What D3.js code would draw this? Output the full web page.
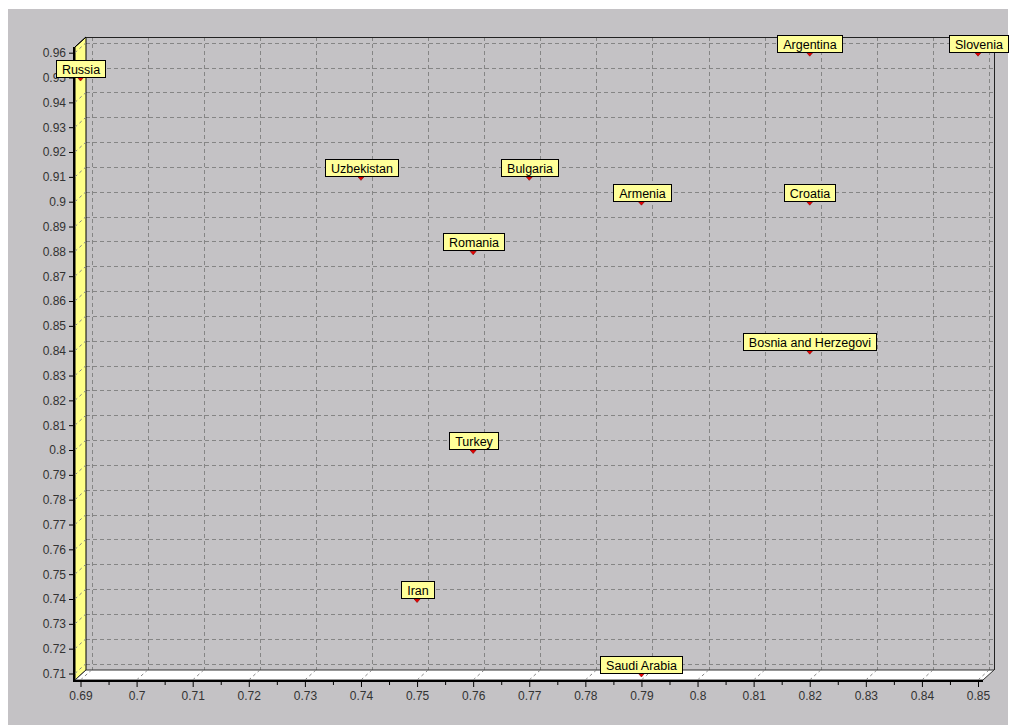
<!DOCTYPE html>
<html><head><meta charset="utf-8">
<script src="https://cdn.jsdelivr.net/npm/d3@7"></script>
<style>body{margin:0;background:#fff}svg{display:block}</style>
</head><body>
<svg id="chart" width="1015" height="725"></svg>
<script>
// ---- data ----
const countries = ["Russia","Argentina","Slovenia","Uzbekistan","Bulgaria","Armenia","Croatia","Romania","Bosnia and Herzegovi","Turkey","Iran","Saudi Arabia"];
const xValues   = [0.69, 0.82, 0.85, 0.74, 0.77, 0.79, 0.82, 0.76, 0.82, 0.76, 0.75, 0.79];
const yValues   = [0.95, 0.96, 0.96, 0.91, 0.91, 0.90, 0.90, 0.88, 0.84, 0.80, 0.74, 0.71];
const xTickValues = [0.69,0.70,0.71,0.72,0.73,0.74,0.75,0.76,0.77,0.78,0.79,0.80,0.81,0.82,0.83,0.84,0.85];
const xTickLabels = ["0.69","0.7","0.71","0.72","0.73","0.74","0.75","0.76","0.77","0.78","0.79","0.8","0.81","0.82","0.83","0.84","0.85"];
const yTickValues = [0.71,0.72,0.73,0.74,0.75,0.76,0.77,0.78,0.79,0.80,0.81,0.82,0.83,0.84,0.85,0.86,0.87,0.88,0.89,0.90,0.91,0.92,0.93,0.94,0.95,0.96];
const yTickLabels = ["0.71","0.72","0.73","0.74","0.75","0.76","0.77","0.78","0.79","0.8","0.81","0.82","0.83","0.84","0.85","0.86","0.87","0.88","0.89","0.9","0.91","0.92","0.93","0.94","0.95","0.96"];

// ---- layout ----
const svg = d3.select("#chart");
const F = {left:75, right:983, top:47, bottom:680};
const DX = 11, DY = -10;
const B = {left:F.left+DX, right:F.right+DX, top:F.top+DY, bottom:F.bottom+DY};
const x = d3.scaleLinear().domain([0.69,0.85]).range([80.5,978]);
const y = d3.scaleLinear().domain([0.71,0.96]).range([673.5,52.7]);
const gridColor = "#858585";
const dash = "4,3";

svg.append("rect").attr("x",8).attr("y",9).attr("width",1000).attr("height",716).attr("fill","#c4c2c5");

// back-wall grid
const g = svg.append("g");
g.selectAll("line.hg").data(yTickValues).join("line")
  .attr("x1",B.left).attr("x2",B.right)
  .attr("y1",d=>Math.round(y(d)+DY)+0.5).attr("y2",d=>Math.round(y(d)+DY)+0.5)
  .attr("stroke",gridColor).attr("stroke-dasharray",dash);
g.selectAll("line.vg").data(xTickValues).join("line")
  .attr("x1",d=>Math.round(x(d)+DX)+0.5).attr("x2",d=>Math.round(x(d)+DX)+0.5)
  .attr("y1",B.top).attr("y2",B.bottom)
  .attr("stroke",gridColor).attr("stroke-dasharray",dash);

// left wall
svg.append("path")
  .attr("d",`M${F.left},${F.top}L${B.left},${B.top}L${B.left},${B.bottom}L${F.left},${F.bottom}Z`)
  .attr("fill","#ffff88").attr("stroke","#000").attr("stroke-width",1);
// floor
svg.append("path")
  .attr("d",`M${F.left},${F.bottom}L${B.left},${B.bottom}L${B.right},${B.bottom}L${F.right},${F.bottom}Z`)
  .attr("fill","#ffffff").attr("stroke","#333").attr("stroke-width",1);

// wall / floor grid diagonals
svg.append("g").selectAll("line").data(yTickValues).join("line")
  .attr("x1",F.left).attr("y1",d=>y(d)).attr("x2",B.left).attr("y2",d=>y(d)+DY)
  .attr("stroke",gridColor).attr("stroke-dasharray","3,3");
svg.append("g").selectAll("line").data(xTickValues).join("line")
  .attr("x1",d=>x(d)).attr("y1",F.bottom).attr("x2",d=>x(d)+DX).attr("y2",B.bottom)
  .attr("stroke",gridColor).attr("stroke-dasharray","3,3");

// back wall top/right edges
svg.append("path").attr("d",`M${B.left},${B.top+0.5}H${B.right+0.5}V${B.bottom}`)
  .attr("fill","none").attr("stroke","#222").attr("stroke-width",1);
svg.append("path").attr("d",`M${B.left},${B.top}L${F.left},${F.top}`)
  .attr("fill","none").attr("stroke","#000").attr("stroke-width",1);

// front axis lines
svg.append("line").attr("x1",F.left-1).attr("x2",F.left-1).attr("y1",F.top).attr("y2",F.bottom+2)
  .attr("stroke","#000").attr("stroke-width",2);
svg.append("line").attr("x1",F.left-2).attr("x2",F.right).attr("y1",F.bottom+1).attr("y2",F.bottom+1)
  .attr("stroke","#000").attr("stroke-width",2);

// axes
const font = "'Liberation Sans', Arial, sans-serif";
const yAxis = svg.append("g").attr("transform",`translate(${F.left-2},0)`)
  .call(d3.axisLeft(y).tickValues(yTickValues).tickFormat((d,i)=>yTickLabels[i]).tickSize(4).tickPadding(3));
const xAxis = svg.append("g").attr("transform",`translate(0,${F.bottom+2})`)
  .call(d3.axisBottom(x).tickValues(xTickValues).tickFormat((d,i)=>xTickLabels[i]).tickSize(5).tickPadding(4));
const minor = d3.pairs(xTickValues).map(p=>(p[0]+p[1])/2);
const xMinor = svg.append("g").attr("transform",`translate(0,${F.bottom+2})`)
  .call(d3.axisBottom(x).tickValues(minor).tickFormat("").tickSize(3));
[yAxis,xAxis,xMinor].forEach(a=>{
  a.select(".domain").remove();
  a.selectAll("line").attr("stroke","#000");
  a.selectAll("text").attr("fill","#333").style("font-family",font).style("font-size","12px");
});

// points + labels
const pts = countries.map((c,i)=>({name:c, vx:xValues[i], vy:yValues[i]}));
const pg = svg.append("g");
pts.forEach(p=>{
  const px = x(p.vx), py = y(p.vy);
  pg.append("path")
    .attr("d",`M${px-3},${py}L${px+3},${py}L${px},${py+3.5}Z`)
    .attr("fill","#ee0000").attr("stroke","#800000").attr("stroke-width",0.6);
});
pts.forEach(p=>{
  const px = x(p.vx), py = y(p.vy);
  const grp = pg.append("g");
  const rect = grp.append("rect");
  const t = grp.append("text").text(p.name)
    .attr("text-anchor","middle")
    .style("font-family",font).style("font-size","12.5px").attr("fill","#000");
  const w = t.node().getComputedTextLength() + 11;
  const h = 17;
  const bx = Math.round(px - w/2)+0.5, by = Math.round(py - 1 - h)+0.5;
  rect.attr("x",bx).attr("y",by).attr("width",Math.round(w)).attr("height",h)
    .attr("fill","#ffff99").attr("stroke","#000").attr("stroke-width",1);
  t.attr("x",bx+Math.round(w)/2).attr("y",by+h-4);
});
</script>
</body></html>
